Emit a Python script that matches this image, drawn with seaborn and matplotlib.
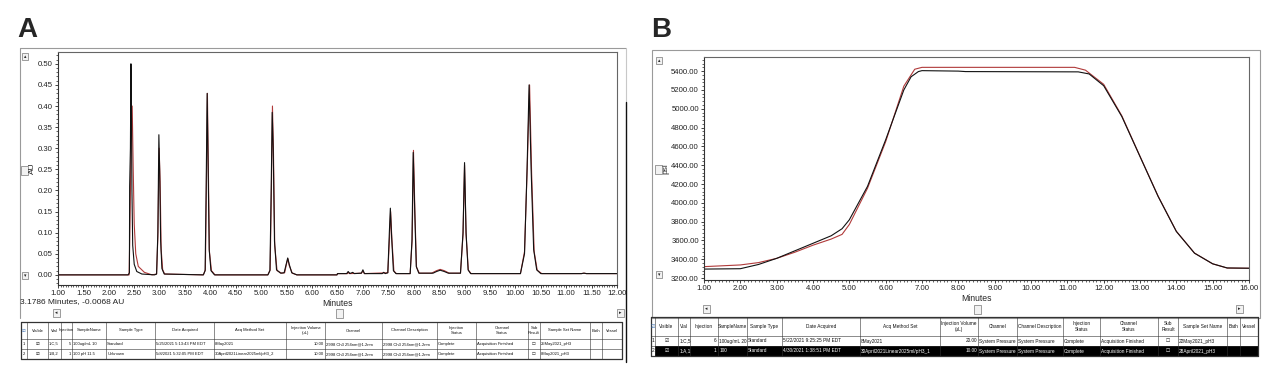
import numpy as np
import pandas as pd
import matplotlib.pyplot as plt
import seaborn as sns
from matplotlib.patches import Rectangle
from matplotlib.ticker import MultipleLocator, FormatStrFormatter

sns.set_style("white")
plt.rcParams['font.family'] = ['Liberation Sans', 'DejaVu Sans']

# ---- panel A: UV chromatogram (AU vs minutes), two injections overlaid ----
a_black_t = [1.00, 2.38, 2.405, 2.41, 2.425, 2.435, 2.445, 2.455, 2.47, 2.50, 2.55, 2.65, 2.90,
             2.94, 2.965, 2.985, 3.00, 3.02, 3.045, 3.09, 3.86, 3.895, 3.915, 3.935, 3.955, 3.975,
             4.01, 4.08, 5.13, 5.17, 5.195, 5.215, 5.235, 5.26, 5.30, 5.38, 5.45, 5.50, 5.52, 5.55,
             5.60, 5.70, 6.49, 6.50, 6.68, 6.71, 6.74, 6.80, 6.83, 6.97, 7.00, 7.03, 7.38, 7.41,
             7.44, 7.49, 7.52, 7.54, 7.565, 7.60, 7.65, 7.93, 7.965, 7.99, 8.02, 8.05, 8.10, 8.38,
             8.45, 8.52, 8.60, 8.68, 8.92, 8.97, 9.00, 9.03, 9.07, 9.12, 10.10, 10.18, 10.23, 10.27,
             10.31, 10.36, 10.42, 10.50, 11.30, 11.35, 11.40, 12.00]
a_black_v = [0.000, 0.000, 0.005, 0.210, 0.300, 0.500, 0.400, 0.200, 0.070, 0.025, 0.008, 0.002, 0.000,
             0.002, 0.100, 0.332, 0.250, 0.080, 0.015, 0.002, 0.000, 0.010, 0.200, 0.430, 0.250, 0.060,
             0.010, 0.000, 0.000, 0.010, 0.200, 0.385, 0.300, 0.080, 0.012, 0.004, 0.005, 0.030, 0.040, 0.025,
             0.005, 0.000, 0.000, 0.003, 0.003, 0.008, 0.003, 0.006, 0.003, 0.004, 0.012, 0.003, 0.003, 0.006,
             0.003, 0.005, 0.100, 0.158, 0.090, 0.010, 0.003, 0.003, 0.080, 0.290, 0.150, 0.020, 0.004, 0.004,
             0.008, 0.011, 0.008, 0.004, 0.004, 0.100, 0.266, 0.100, 0.012, 0.003, 0.003, 0.050, 0.250, 0.450,
             0.250, 0.060, 0.012, 0.003, 0.003, 0.004, 0.003, 0.003]

a_red_t = [1.00, 2.40, 2.42, 2.44, 2.46, 2.48, 2.50, 2.53, 2.58, 2.70, 2.85,
           2.94, 2.965, 2.99, 3.01, 3.03, 3.06, 3.10, 3.86, 3.90, 3.92, 3.94, 3.96, 3.98,
           4.02, 4.09, 5.13, 5.175, 5.20, 5.22, 5.24, 5.265, 5.31, 5.40, 5.46, 5.50, 5.525, 5.55,
           5.61, 5.70, 6.49, 6.50, 6.70, 6.72, 6.75, 6.97, 7.00, 7.03, 7.49, 7.525, 7.545, 7.57,
           7.61, 7.66, 7.93, 7.97, 7.995, 8.025, 8.055, 8.11, 8.35, 8.45, 8.52, 8.60, 8.70, 8.92,
           8.97, 9.00, 9.03, 9.075, 9.13, 10.10, 10.18, 10.235, 10.28, 10.32, 10.37, 10.43, 10.52,
           11.30, 11.35, 11.40, 12.00]
a_red_v = [0.000, 0.000, 0.150, 0.330, 0.400, 0.250, 0.120, 0.050, 0.020, 0.006, 0.000,
           0.002, 0.090, 0.300, 0.220, 0.060, 0.012, 0.002, 0.000, 0.012, 0.210, 0.430, 0.240, 0.055,
           0.010, 0.000, 0.000, 0.012, 0.210, 0.400, 0.290, 0.070, 0.010, 0.004, 0.005, 0.028, 0.038, 0.022,
           0.004, 0.000, 0.000, 0.003, 0.003, 0.006, 0.003, 0.004, 0.009, 0.003, 0.005, 0.090, 0.150, 0.085,
           0.009, 0.003, 0.003, 0.085, 0.295, 0.140, 0.018, 0.004, 0.004, 0.010, 0.013, 0.010, 0.004, 0.004,
           0.095, 0.260, 0.095, 0.011, 0.003, 0.003, 0.055, 0.260, 0.450, 0.240, 0.055, 0.011, 0.003,
           0.003, 0.004, 0.003, 0.003]

# ---- panel B: system pressure trace (psi vs minutes) ----
b_black_t = [1.0, 2.0, 2.5, 3.0, 3.5, 4.0, 4.5, 4.8, 5.0, 5.5, 6.0, 6.5, 6.7, 6.9, 7.0, 8.0, 8.2,
             11.3, 11.6, 12.0, 12.5, 13.0, 13.5, 14.0, 14.5, 15.0, 15.4, 16.0]
b_black_v = [3296, 3300, 3345, 3410, 3490, 3570, 3650, 3725, 3820, 4175, 4670, 5200, 5340, 5395,
             5405, 5400, 5395, 5392, 5370, 5245, 4917, 4492, 4067, 3696, 3465, 3352, 3308, 3305]
b_red_t = [1.0, 2.0, 2.5, 3.0, 3.5, 4.0, 4.5, 4.8, 5.0, 5.5, 6.0, 6.5, 6.8, 7.0, 11.2, 11.5,
           12.0, 12.5, 13.0, 13.5, 14.0, 14.5, 15.0, 15.4, 16.0]
b_red_v = [3322, 3340, 3365, 3410, 3475, 3550, 3615, 3665, 3770, 4155, 4650, 5240, 5420, 5440,
           5440, 5410, 5260, 4925, 4495, 4070, 3698, 3466, 3352, 3307, 3305]

# ---- injection tables under each chromatogram ----
tbl_header = ['\u2611', 'Visible', 'Vial', 'Injection', 'SampleName', 'Sample Type', 'Date Acquired',
              'Acq Method Set', 'Injection Volume\n(uL)', 'Channel', 'Channel Description',
              'Injection\nStatus', 'Channel\nStatus', 'Sub\nResult', 'Sample Set Name', 'Bath', 'Vessel']
tbl_align = ['c', 'c', 'l', 'r', 'l', 'l', 'l', 'l', 'r', 'l', 'l', 'l', 'l', 'c', 'l', 'l', 'l']
a_rows = [
    ['1', '\u2611', '1:C,5', '5', '100ug/mL 10', 'Standard', '5/25/2021 5:13:43 PM EDT', '8May2021',
     '10.00', '2998 Ch3 254nm@1.2nm', '2998 Ch3 254nm@1.2nm', 'Complete', 'Acquisition Finished',
     '\u2610', '25May2021_pH3', '', ''],
    ['2', '\u2611', '1:B,2', '1', '100 pH 11.5', 'Unknown', '5/8/2021 5:32:05 PM EDT',
     '30April2021Linear2025ml/pH3_2', '10.00', '2998 Ch3 254nm@1.2nm', '2998 Ch3 254nm@1.2nm',
     'Complete', 'Acquisition Finished', '\u2610', '8May2021_pH3', '', ''],
]
b_rows = [
    ['1', '\u2611', '1:C,5', '6', '100ug/mL 20', 'Standard', '5/22/2021 9:25:25 PM EDT', '8May2021',
     '20.00', 'System Pressure', 'System Pressure', 'Complete', 'Acquisition Finished',
     '\u2610', '22May2021_pH3', '', ''],
    ['2', '\u2611', '1:A,1', '1', '100', 'Standard', '4/30/2021 1:38:51 PM EDT',
     '30April2021Linear2025ml/pH3_1', '10.00', 'System Pressure', 'System Pressure',
     'Complete', 'Acquisition Finished', '\u2610', '28April2021_pH3', '', ''],
]

BLACK = '#111111'
RED = '#b03a3a'
W, H = 1280, 379


def rect(x0, y0, x1, y1):
    return [x0 / W, 1 - y1 / H, (x1 - x0) / W, (y1 - y0) / H]


fig = plt.figure(figsize=(12.8, 3.79), dpi=100)

# full-figure layer in pixel coordinates for window chrome and tables
bg = fig.add_axes([0, 0, 1, 1])
bg.set_xlim(0, W)
bg.set_ylim(H, 0)
bg.axis('off')


def button(x, y, w, h, glyph=''):
    bg.add_patch(Rectangle((x, y), w, h, facecolor='#f2f2f2', edgecolor='#777777', lw=0.5))
    if glyph:
        bg.text(x + w / 2, y + h / 2, glyph, ha='center', va='center', fontsize=3.5, color='#222222')


def draw_table(xe, ye, rows, fs, dark_rows=()):
    for i in dark_rows:
        bg.add_patch(Rectangle((xe[1], ye[i + 1]), xe[-1] - xe[1], ye[i + 2] - ye[i + 1],
                               facecolor='black', edgecolor='none'))
    for k, y in enumerate(ye):
        bg.plot([xe[0], xe[-1]], [y, y], color='#333333', lw=0.9 if k in (0, len(ye) - 1) else 0.4)
    for k, x in enumerate(xe):
        bg.plot([x, x], [ye[0], ye[-1]], color='#333333', lw=0.9 if k in (0, len(xe) - 1) else 0.4)
    for j, h in enumerate(tbl_header):
        c = '#3a6fb0' if j == 0 else '#111111'
        bg.text((xe[j] + xe[j + 1]) / 2, (ye[0] + ye[1]) / 2, h, ha='center', va='center',
                fontsize=fs, color=c, linespacing=1.1)
    for i, row in enumerate(rows):
        yc = (ye[i + 1] + ye[i + 2]) / 2
        for j, cell in enumerate(row):
            col = 'white' if (i in dark_rows and j > 0) else '#111111'
            a = tbl_align[j]
            if a == 'l':
                x, ha = xe[j] + 1.2, 'left'
            elif a == 'r':
                x, ha = xe[j + 1] - 1.2, 'right'
            else:
                x, ha = (xe[j] + xe[j + 1]) / 2, 'center'
            bg.text(x, yc, cell, ha=ha, va='center', fontsize=fs, color=col)


def chrom_axes(box, xlim, ylim, xmaj, xmin, ymaj, ymin, yfmt):
    ax = fig.add_axes(rect(*box))
    ax.set_zorder(2)
    ax.set_xlim(*xlim)
    ax.set_ylim(*ylim)
    ax.xaxis.set_major_locator(MultipleLocator(xmaj))
    ax.xaxis.set_minor_locator(MultipleLocator(xmin))
    ax.yaxis.set_major_locator(MultipleLocator(ymaj))
    ax.yaxis.set_minor_locator(MultipleLocator(ymin))
    ax.xaxis.set_major_formatter(FormatStrFormatter('%.2f'))
    ax.yaxis.set_major_formatter(FormatStrFormatter(yfmt))
    ax.tick_params(which='major', direction='out', length=2.5, width=0.6, labelsize=5.6,
                   pad=1.2, colors='#222222', bottom=True, left=True)
    ax.tick_params(which='minor', direction='out', length=1.3, width=0.5, bottom=True, left=True)
    for s in ax.spines.values():
        s.set_linewidth(0.8)
    ax.spines['left'].set_color('#333333')
    ax.spines['bottom'].set_color('#333333')
    ax.spines['top'].set_color('#666666')
    ax.spines['right'].set_color('#666666')
    return ax


# ---------------- Panel A ----------------
bg.text(17, 37, 'A', fontsize=20, fontweight='bold', ha='left', va='baseline', family='Liberation Sans')
bg.plot([20, 20, 626], [318, 48, 48], color='#9a9a9a', lw=0.8)
bg.plot([626, 626], [48, 102], color='#c8c8c8', lw=0.8)
bg.plot([626, 626], [102, 362], color='#111111', lw=1.0)
button(22, 53, 6, 7, '\u25b4')
button(21, 166, 7, 9)
button(22, 272, 6, 7, '\u25be')
button(53, 309, 7, 8, '\u25c2')
button(336, 309, 7, 9)
button(617, 309, 7, 8, '\u25b8')
bg.text(20, 302, '3.1786 Minutes, -0.0068 AU', fontsize=6, ha='left', va='center', color='#222222')

axA = chrom_axes((58, 52, 617, 285), (1, 12), (-0.024, 0.528), 0.5, 0.05, 0.05, 0.01, '%.2f')
sns.lineplot(x=a_red_t, y=a_red_v, ax=axA, color=RED, lw=0.8)
sns.lineplot(x=a_black_t, y=a_black_v, ax=axA, color=BLACK, lw=0.8)
axA.set_xlabel('Minutes', fontsize=6.2)
axA.set_ylabel('AU', fontsize=6)
axA.xaxis.set_label_coords(0.5, -0.058)
axA.yaxis.set_label_coords(-0.039, 0.5)

a_x_edges = [21, 27, 48, 61, 72, 106, 155, 214, 286, 325, 382, 437, 476, 528, 540, 590, 602, 622]
a_y_edges = [322, 339, 349, 359]
draw_table(a_x_edges, a_y_edges, a_rows, 3.0)

# ---------------- Panel B ----------------
bg.text(651, 37, 'B', fontsize=20, fontweight='bold', ha='left', va='baseline', family='Liberation Sans')
bg.add_patch(Rectangle((652, 50), 608, 268, facecolor='none', edgecolor='#9a9a9a', lw=0.8))
button(656, 57, 6, 7, '\u25b4')
button(655, 165, 7, 9)
button(656, 271, 6, 7, '\u25be')
button(703, 305, 7, 8, '\u25c2')
button(974, 305, 7, 9)
button(1236, 305, 7, 8, '\u25b8')

axB = chrom_axes((704, 57, 1249, 280), (1, 16), (3180, 5550), 1.0, 0.1, 200, 40, '%.2f')
sns.lineplot(x=b_red_t, y=b_red_v, ax=axB, color=RED, lw=0.8)
sns.lineplot(x=b_black_t, y=b_black_v, ax=axB, color=BLACK, lw=0.8)
axB.set_xlabel('Minutes', fontsize=6.2)
axB.set_ylabel('psi', fontsize=6)
axB.xaxis.set_label_coords(0.5, -0.062)
axB.yaxis.set_label_coords(-0.064, 0.5)

b_x_edges = [651, 655, 678, 690, 718, 747, 782, 860, 940, 978, 1017, 1063, 1100, 1158, 1178, 1227, 1240, 1258]
b_y_edges = [317, 336, 346, 356]
draw_table(b_x_edges, b_y_edges, b_rows, 3.4, dark_rows=(1,))

fig.savefig('out.png', dpi=100, facecolor='white')
